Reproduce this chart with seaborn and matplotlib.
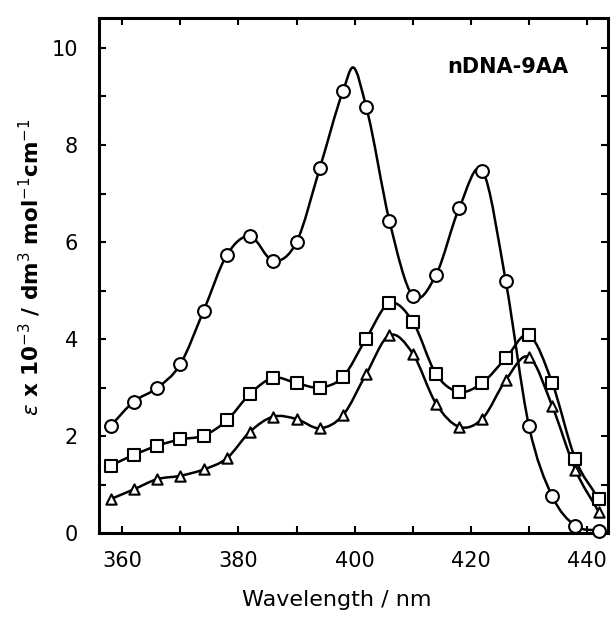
import numpy as np
import pandas as pd
import seaborn as sns
import matplotlib
matplotlib.use("Agg")
import matplotlib.pyplot as plt
from matplotlib.path import Path
from matplotlib.patches import PathPatch

# wavelengths of the measured points (nm)
wavelength = [358, 362, 366, 370, 374, 378, 382, 386, 390, 394, 398,
              402, 406, 410, 414, 418, 422, 426, 430, 434, 438, 442]

# epsilon x 10^-3
circles = [2.21, 2.71, 2.99, 3.48, 4.58, 5.73, 6.12, 5.61, 6.00, 7.52, 9.11,
           8.78, 6.43, 4.89, 5.32, 6.70, 7.47, 5.20, 2.21, 0.76, 0.15, 0.05]
squares = [1.39, 1.61, 1.80, 1.93, 2.01, 2.32, 2.87, 3.20, 3.09, 3.00, 3.22,
           4.01, 4.74, 4.36, 3.28, 2.91, 3.10, 3.60, 4.08, 3.10, 1.52, 0.70]
triangles = [0.70, 0.90, 1.11, 1.18, 1.31, 1.54, 2.09, 2.40, 2.35, 2.16, 2.43,
             3.28, 4.08, 3.70, 2.67, 2.19, 2.36, 3.15, 3.63, 2.62, 1.30, 0.44]

# apex of the drawn circle curve between measured points
circle_apex_x = [399.7]
circle_apex_y = [9.60]

sns.set_style("ticks", {'axes.edgecolor': 'black', 'text.color': 'black',
                        'xtick.color': 'black', 'ytick.color': 'black',
                        'axes.labelcolor': 'black'})
plt.rcParams['font.family'] = ['DejaVu Sans']

fig = plt.figure(figsize=(6.11, 6.18), dpi=100)
ax = fig.add_axes([0.162, 0.1375, 0.833, 0.8335])


def smooth_curve(ax, xs, ys, apex_x=(), apex_y=()):
    # cubic Hermite in x through the knots, drawn as a bezier path
    pts = sorted(zip(list(xs) + list(apex_x), list(ys) + list(apex_y)))
    x = np.array([q[0] for q in pts], dtype=float)
    y = np.array([q[1] for q in pts], dtype=float)
    h = np.diff(x)
    d = np.diff(y) / h
    m = np.empty_like(y)
    m[0], m[-1] = d[0], d[-1]
    m[1:-1] = (d[:-1] * h[1:] + d[1:] * h[:-1]) / (h[:-1] + h[1:])
    for ax_x in apex_x:
        m[np.argmin(np.abs(x - ax_x))] = 0.0
    verts = [(x[0], y[0])]
    codes = [Path.MOVETO]
    for i in range(len(x) - 1):
        verts += [(x[i] + h[i] / 3, y[i] + m[i] * h[i] / 3),
                  (x[i + 1] - h[i] / 3, y[i + 1] - m[i + 1] * h[i] / 3),
                  (x[i + 1], y[i + 1])]
        codes += [Path.CURVE4] * 3
    ax.add_patch(PathPatch(Path(verts, codes), fill=False, edgecolor='black',
                           lw=1.8, zorder=2))


smooth_curve(ax, wavelength, circles, circle_apex_x, circle_apex_y)
smooth_curve(ax, wavelength, squares)
smooth_curve(ax, wavelength, triangles)

df = pd.DataFrame({'wl': wavelength, 'circ': circles,
                   'sq': squares, 'tri': triangles})
for col, mk, size in [('circ', 'o', 85), ('sq', 's', 75), ('tri', '^', 55)]:
    sns.scatterplot(data=df, x='wl', y=col, marker=mk, s=size, color='white',
                    edgecolor='black', linewidth=1.5, zorder=3, ax=ax,
                    clip_on=False)

ax.set_xlim(356.0, 443.6)
ax.set_ylim(0, 10.62)
ax.set_xticks(np.arange(360, 441, 20))
ax.set_xticks(np.arange(360, 441, 10), minor=True)
ax.set_yticks(np.arange(0, 11, 2))
ax.set_yticks(np.arange(0, 11, 1), minor=True)
ax.tick_params(which='both', direction='in', top=True, right=True,
               length=5, width=1.5, labelsize=15)
ax.tick_params(axis='x', pad=13)
ax.tick_params(axis='y', pad=15)
for s in ax.spines.values():
    s.set_linewidth(2.2)

ax.set_xlabel('Wavelength / nm', fontsize=16)
ax.xaxis.set_label_coords(0.468, -0.11)
ax.set_ylabel(r'$\varepsilon$ x 10$^{-3}$ / dm$^{3}$ mol$^{-1}$cm$^{-1}$',
              fontsize=15.5, fontweight='bold')
ax.yaxis.set_label_coords(-0.11, 0.516)
ax.text(0.803, 0.905, 'nDNA-9AA', transform=ax.transAxes, ha='center',
        va='center', fontsize=15, fontweight='bold')

fig.savefig('out.png', dpi=100)
